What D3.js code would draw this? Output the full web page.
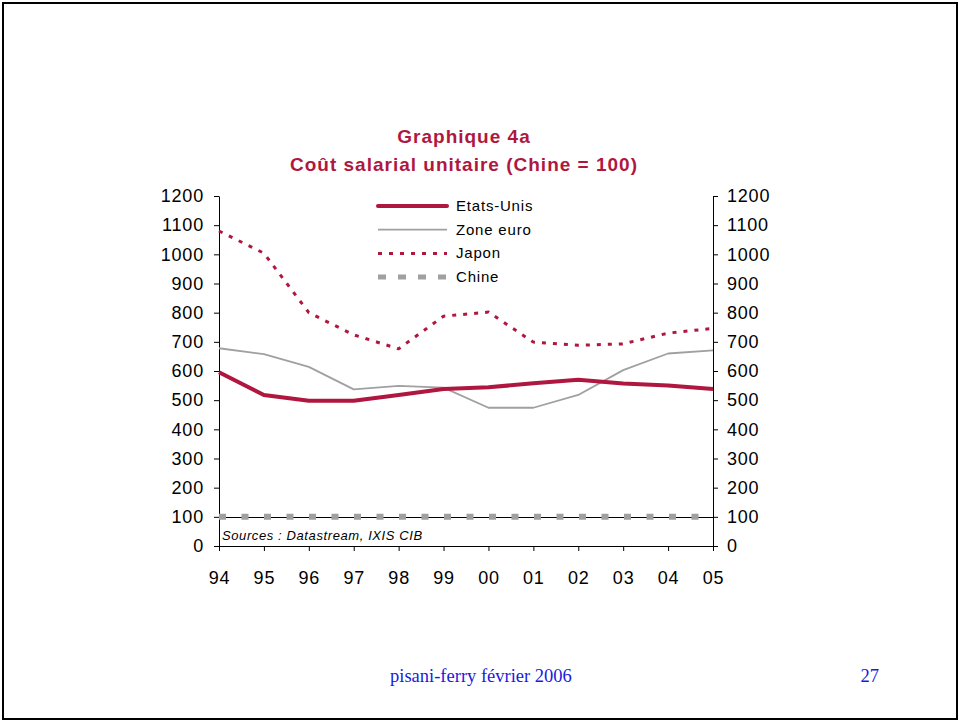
<!DOCTYPE html>
<html>
<head>
<meta charset="utf-8">
<script src="https://cdn.jsdelivr.net/npm/d3@7"></script>
<style>
  body { margin: 0; background: #fff; }
  svg { display: block; }
</style>
</head>
<body>
<div id="chart"></div>
<script>
// data
const years = ["94", "95", "96", "97", "98", "99", "00", "01", "02", "03", "04", "05"];
const etatsUnis = [596, 518, 498, 498, 518, 538, 544, 558, 570, 557, 550, 538];
const zoneEuro = [678, 658, 614, 537, 549, 543, 474, 474, 518, 603, 660, 671];
const japon = [1080, 1004, 800, 724, 676, 788, 802, 699, 688, 693, 730, 746];
const chine = [100, 100, 100, 100, 100, 100, 100, 100, 100, 100, 100, 100];
const yTicks = [0, 100, 200, 300, 400, 500, 600, 700, 800, 900, 1000, 1100, 1200];

const red = "#b0173f";
const grey = "#a0a0a0";
const sans = "Liberation Sans, Arial, sans-serif";

const series = [
    { name: "Etats-Unis", values: etatsUnis, color: red, width: 4, dash: null },
    { name: "Zone euro", values: zoneEuro, color: grey, width: 1.8, dash: null },
    { name: "Japon", values: japon, color: red, width: 3, dash: "4,7" },
    { name: "Chine", values: chine, color: grey, width: 6, dash: "7,15.5" }
];

const W = 959, H = 721;
const svg = d3.select("#chart").append("svg")
    .attr("width", W)
    .attr("height", H);

// slide frame
svg.append("rect")
    .attr("x", 3).attr("y", 3)
    .attr("width", W - 5).attr("height", H - 5)
    .attr("fill", "none")
    .attr("stroke", "#000")
    .attr("stroke-width", 2);

const x = d3.scalePoint().domain(years).range([219, 713]);
const y = d3.scaleLinear().domain([0, 1200]).range([546, 196]);

// titles
[["Graphique 4a", 143], ["Coût salarial unitaire (Chine = 100)", 171]].forEach(([t, ty]) => {
    svg.append("text")
        .attr("x", 464).attr("y", ty)
        .attr("text-anchor", "middle")
        .attr("font-family", sans)
        .attr("font-weight", "bold")
        .attr("font-size", 19)
        .attr("letter-spacing", 1)
        .attr("fill", red)
        .text(t);
});

const axisFont = g => g.selectAll("text")
    .attr("font-family", sans)
    .attr("font-size", 18)
    .attr("letter-spacing", 0.8)
    .attr("fill", "#000");

// left axis
svg.append("g")
    .attr("transform", "translate(219,0)")
    .call(d3.axisLeft(y).tickValues(yTicks).tickFormat(d3.format("d"))
        .tickSize(5).tickPadding(10).tickSizeOuter(0))
    .call(axisFont)
    .call(g => g.selectAll("line,path").attr("stroke", "#000"));

// right axis
svg.append("g")
    .attr("transform", "translate(713,0)")
    .call(d3.axisRight(y).tickValues(yTicks).tickFormat(d3.format("d"))
        .tickSize(5).tickPadding(9).tickSizeOuter(0))
    .call(axisFont)
    .call(g => g.selectAll("line,path").attr("stroke", "#000"));

// bottom axis
svg.append("g")
    .attr("transform", "translate(0,546)")
    .call(d3.axisBottom(x).tickSize(5).tickPadding(20).tickSizeOuter(0))
    .call(axisFont)
    .call(g => g.select(".domain").attr("d", "M219,0.5H713.5"))
    .call(g => g.selectAll("line,path").attr("stroke", "#000"));

// reference line at 100
svg.append("line")
    .attr("x1", x("94")).attr("x2", x("05"))
    .attr("y1", Math.round(y(100)) + 0.5).attr("y2", Math.round(y(100)) + 0.5)
    .attr("stroke", "#000")
    .attr("stroke-width", 1);

const line = d3.line()
    .x((d, i) => x(years[i]))
    .y(d => y(d));

// draw back to front: chine, euro, japon, us
[series[3], series[1], series[2], series[0]].forEach(s => {
    svg.append("path")
        .datum(s.values)
        .attr("d", line)
        .attr("fill", "none")
        .attr("stroke", s.color)
        .attr("stroke-width", s.width)
        .attr("stroke-dasharray", s.dash)
        .attr("stroke-linejoin", "round");
});

// sources note
svg.append("text")
    .attr("x", 222).attr("y", 540)
    .attr("font-family", sans)
    .attr("font-style", "italic")
    .attr("font-size", 13)
    .attr("letter-spacing", 0.6)
    .attr("fill", "#000")
    .text("Sources : Datastream, IXIS CIB");

// legend
const legend = svg.append("g");
series.forEach((s, i) => {
    const ly = 206 + i * 23.7;
    legend.append("line")
        .attr("x1", 378).attr("x2", 447)
        .attr("y1", ly).attr("y2", ly)
        .attr("stroke", s.color)
        .attr("stroke-width", s.name === "Chine" ? 5 : s.width)
        .attr("stroke-dasharray", s.name === "Chine" ? "8,12" : s.dash)
        .attr("stroke-linecap", s.name === "Etats-Unis" ? "round" : "butt");
    legend.append("text")
        .attr("x", 456).attr("y", ly + 5)
        .attr("font-family", sans)
        .attr("font-size", 15)
        .attr("letter-spacing", 0.8)
        .attr("fill", "#000")
        .text(s.name);
});

// footer
svg.append("text")
    .attr("x", 390).attr("y", 682)
    .attr("font-family", "Liberation Serif, Times New Roman, serif")
    .attr("font-size", 18.5)
    .attr("fill", "#1a1adc")
    .text("pisani-ferry février 2006");
svg.append("text")
    .attr("x", 879).attr("y", 682)
    .attr("text-anchor", "end")
    .attr("font-family", "Liberation Serif, Times New Roman, serif")
    .attr("font-size", 18.5)
    .attr("fill", "#1a1adc")
    .text("27");
</script>
</body>
</html>
